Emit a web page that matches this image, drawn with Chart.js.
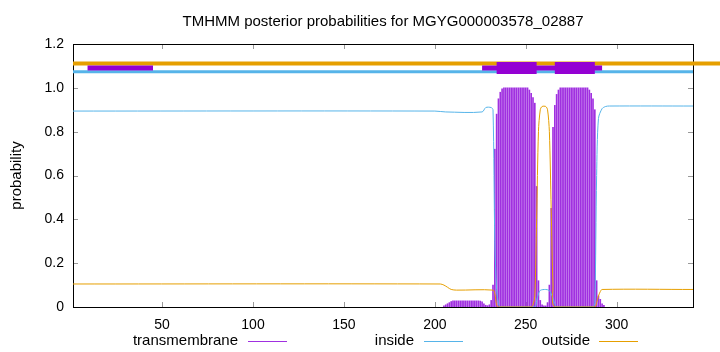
<!DOCTYPE html>
<html>
<head>
<meta charset="utf-8">
<script src="https://cdn.jsdelivr.net/npm/chart.js@4.4.1/dist/chart.umd.min.js"></script>
<style>
html, body { margin: 0; padding: 0; background: #fff; }
</style>
</head>
<body>
<canvas id="tmChart" width="720" height="352"></canvas>
<script>
// axis ticks
const xTicks = [50, 100, 150, 200, 250, 300];
const yTicks = [0, 0.2, 0.4, 0.6, 0.8, 1, 1.2];

// inside probability (residue -> value)
const insideX = [1, 200, 206, 226, 228, 231, 232, 233, 234, 235, 236, 255, 256, 257, 258, 261, 263, 264, 265, 266, 267, 287, 288, 289, 290, 292, 294, 296, 342];
const insideY = [0.894, 0.894, 0.89, 0.89, 0.91, 0.91, 0.9, 0.3, 0.08, 0.02, 0, 0, 0.03, 0.06, 0.076, 0.08, 0.075, 0.06, 0.04, 0.015, 0, 0, 0.02, 0.6, 0.86, 0.905, 0.915, 0.917, 0.917];

// outside probability
const outsideX = [1, 203, 205, 207, 209, 212, 232, 233, 234, 235, 253, 254, 255, 256, 257, 258, 259, 261, 262, 263, 264, 265, 266, 288, 289, 290, 291, 292, 342];
const outsideY = [0.105, 0.105, 0.1, 0.09, 0.08, 0.077, 0.077, 0.06, 0.01, 0, 0, 0.01, 0.05, 0.4, 0.8, 0.9, 0.915, 0.915, 0.9, 0.8, 0.45, 0.1, 0, 0, 0.02, 0.05, 0.07, 0.08, 0.08];

// transmembrane probability (impulses)
const tmX = [205, 206, 207, 208, 209, 210, 211, 212, 213, 214, 215, 216, 217, 218, 219, 220, 221, 222, 223, 224,
    225, 226, 227, 228, 229, 230, 231, 232, 233, 234, 235, 236, 237, 238, 239, 240, 241, 242, 243, 244,
    245, 246, 247, 248, 249, 250, 251, 252, 253, 254, 255, 256, 257, 258, 259, 260, 261, 262, 263, 264,
    265, 266, 267, 268, 269, 270, 271, 272, 273, 274, 275, 276, 277, 278, 279, 280, 281, 282, 283, 284,
    285, 286, 287, 288, 289, 290, 291, 292, 293];
const tmY = [0.005, 0.01, 0.015, 0.02, 0.025, 0.028, 0.028, 0.028, 0.028, 0.028, 0.028, 0.028, 0.028, 0.028, 0.028, 0.028, 0.028, 0.028, 0.028, 0.028,
    0.027, 0.024, 0.015, 0.008, 0.006, 0.01, 0.03, 0.1, 0.72, 0.88, 0.95, 0.98, 0.995, 1, 1, 1, 1, 1, 1, 1,
    1, 1, 1, 1, 1, 1, 1, 0.99, 0.975, 0.955, 0.93, 0.55, 0.12, 0.03, 0.01, 0.005, 0.005, 0.02, 0.1, 0.45,
    0.82, 0.92, 0.97, 0.99, 1, 1, 1, 1, 1, 1, 1, 1, 1, 1, 1, 1, 1, 1, 1, 1,
    0.99, 0.975, 0.95, 0.9, 0.12, 0.05, 0.035, 0.015, 0.008];

// predicted topology bands at the top
const outsideBand = [[1, 357]];
const insideBand = [[1, 342]];
const tmBand = [[9, 45], [226, 292]];
const tmCore = [[234, 256], [266, 288]];
const outsideBandY = 1.111;
const insideBandY = 1.073;
const tmBandY = 1.09;

const PURPLE = '#9400d3';
const IMPULSE = '#a030e0';
const BLUE = '#56b4e9';
const ORANGE = '#e69f00';
const FONT = '"Liberation Sans", Arial, sans-serif';

function segs(list, y) {
    const pts = [];
    list.forEach(([a, b]) => {
        pts.push({x: a, y: y}, {x: b, y: y}, {x: b, y: null});
    });
    return pts;
}
function zip(xs, ys) {
    return xs.map((x, i) => ({x: x, y: ys[i]}));
}

function band(data, color, width) {
    return {
        type: 'line', data: data, borderColor: color, borderWidth: width,
        borderCapStyle: 'butt', pointRadius: 0, spanGaps: false, clip: false
    };
}

// 边框、内向刻度和文字
const decor = {
    id: 'decor',
    beforeDatasetsDraw(chart) {
        const {ctx, chartArea: a, scales} = chart;
        ctx.save();
        ctx.strokeStyle = '#999';
        ctx.lineWidth = 1;
        yTicks.forEach(v => {
            const y = Math.round(scales.y.getPixelForValue(v)) + 0.5;
            ctx.beginPath();
            ctx.moveTo(a.left, y); ctx.lineTo(a.left + 5, y);
            ctx.moveTo(a.right, y); ctx.lineTo(a.right - 5, y);
            ctx.stroke();
        });
        xTicks.forEach(v => {
            const x = Math.round(scales.x.getPixelForValue(v)) + 0.5;
            ctx.beginPath();
            ctx.moveTo(x, a.bottom); ctx.lineTo(x, a.bottom - 5);
            ctx.moveTo(x, a.top); ctx.lineTo(x, a.top + 5);
            ctx.stroke();
        });
        ctx.strokeStyle = '#000';
        ctx.strokeRect(a.left + 0.5, a.top + 0.5, a.right - a.left, a.bottom - a.top);
        ctx.restore();
    },
    afterDraw(chart) {
        const {ctx, chartArea: a} = chart;
        ctx.save();
        ctx.fillStyle = '#000';
        ctx.font = '15px ' + FONT;
        ctx.textAlign = 'center';
        ctx.textBaseline = 'middle';
        ctx.fillText('TMHMM posterior probabilities for MGYG000003578_02887', (a.left + a.right) / 2, 22);

        ctx.save();
        ctx.translate(17, (a.top + a.bottom) / 2);
        ctx.rotate(-Math.PI / 2);
        ctx.fillText('probability', 0, 0);
        ctx.restore();

        const legend = [
            ['transmembrane', IMPULSE, 238, 248],
            ['inside', BLUE, 414, 424],
            ['outside', ORANGE, 590, 599]
        ];
        ctx.textAlign = 'right';
        legend.forEach(([label, color, tx, lx]) => {
            ctx.fillStyle = '#000';
            ctx.fillText(label, tx, 341);
            ctx.strokeStyle = color;
            ctx.lineWidth = 1;
            ctx.beginPath();
            ctx.moveTo(lx, 341.5);
            ctx.lineTo(lx + 39, 341.5);
            ctx.stroke();
        });
        ctx.restore();
    }
};

new Chart(document.getElementById('tmChart'), {
    type: 'bar',
    data: {
        datasets: [
            band(segs(tmCore, tmBandY), PURPLE, 12),
            band(segs(tmBand, tmBandY), PURPLE, 5),
            band(segs(outsideBand, outsideBandY), ORANGE, 4),
            band(segs(insideBand, insideBandY), BLUE, 3),
            {type: 'line', data: zip(outsideX, outsideY), borderColor: ORANGE, borderWidth: 1, pointRadius: 0, tension: 0.3},
            {type: 'line', data: zip(insideX, insideY), borderColor: BLUE, borderWidth: 1, pointRadius: 0, tension: 0.3},
            {type: 'bar', data: zip(tmX, tmY), backgroundColor: IMPULSE, barThickness: 1, borderWidth: 0}
        ]
    },
    options: {
        responsive: false,
        animation: false,
        devicePixelRatio: 1,
        layout: { padding: { left: 0, top: 44, right: 27, bottom: 0 } },
        plugins: {
            legend: { display: false },
            title: { display: false },
            tooltip: { enabled: false }
        },
        scales: {
            x: {
                type: 'linear', min: 1, max: 342, offset: false,
                grid: { display: false, drawTicks: false, offset: false },
                border: { display: false },
                ticks: { font: { family: FONT, size: 14 }, color: '#000', padding: 10, maxRotation: 0 },
                afterBuildTicks: s => { s.ticks = xTicks.map(v => ({value: v})); },
                afterFit: s => { s.height = 45; }
            },
            y: {
                min: 0, max: 1.2,
                grid: { display: false, drawTicks: false },
                border: { display: false },
                ticks: { font: { family: FONT, size: 14 }, color: '#000', padding: 9 },
                afterBuildTicks: s => { s.ticks = yTicks.map(v => ({value: v})); },
                afterFit: s => { s.width = 73; }
            }
        }
    },
    plugins: [decor]
});
</script>
</body>
</html>
